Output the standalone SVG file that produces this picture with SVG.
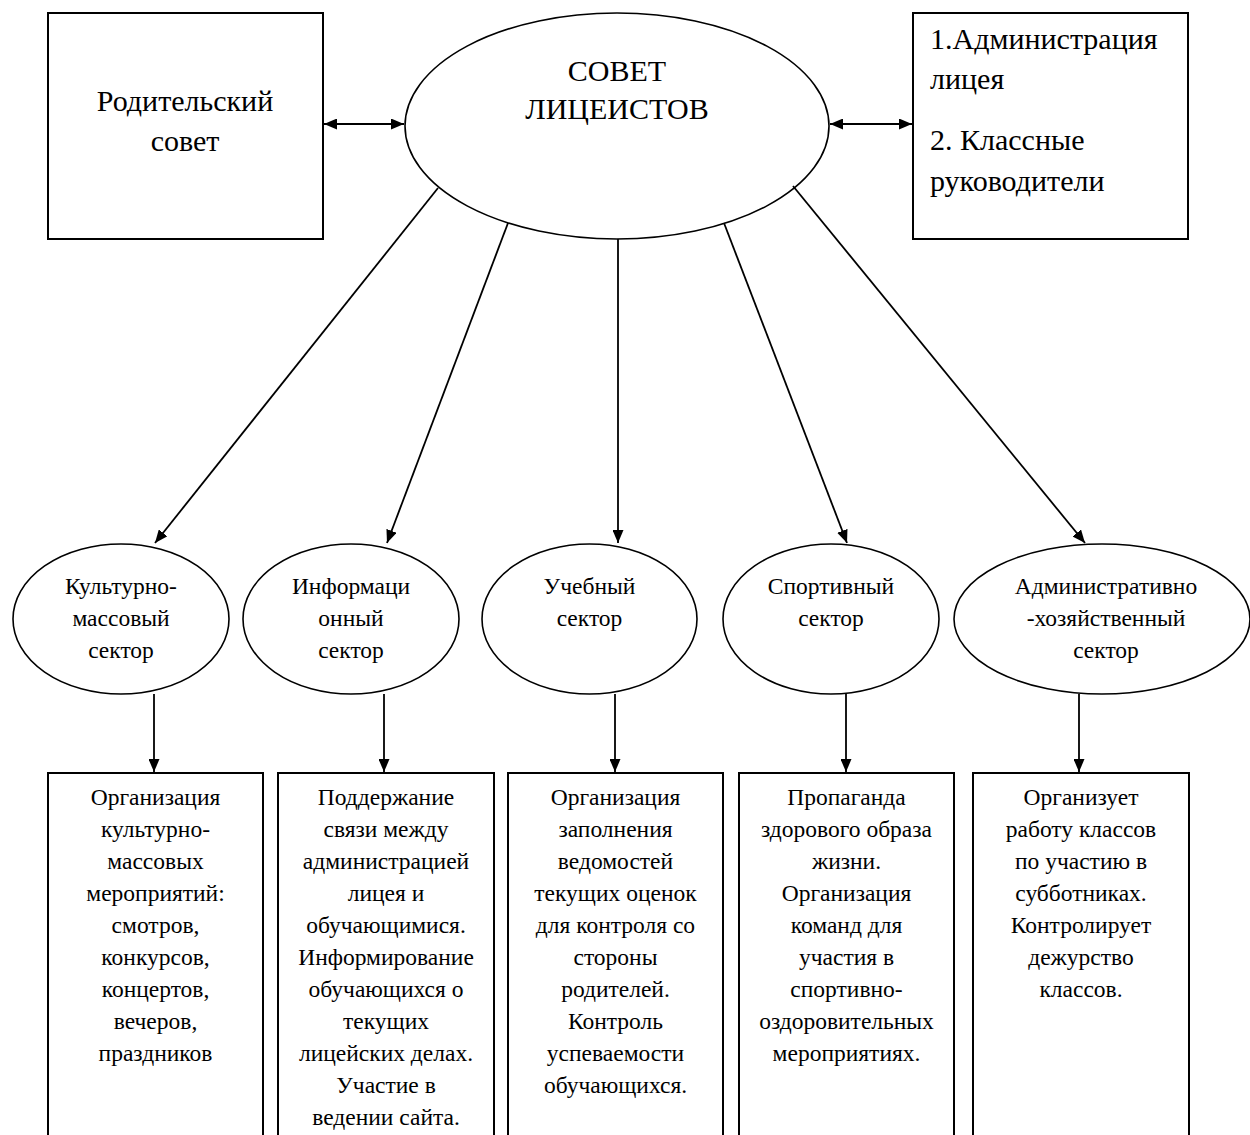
<svg xmlns="http://www.w3.org/2000/svg" width="1250" height="1135" viewBox="0 0 1250 1135">
<style>
.box{fill:#fff;stroke:#000;stroke-width:2}
.ell{fill:#fff;stroke:#000;stroke-width:1.6}
.big{font-family:"Liberation Serif","Times New Roman",serif;font-size:30px;fill:#000}
.sm{font-family:"Liberation Serif","Times New Roman",serif;font-size:23.5px;fill:#000;text-anchor:middle}
.c{text-anchor:middle}
.ln{stroke:#000;stroke-width:1.8;fill:none}
</style>
<defs>
<marker id="ah" viewBox="0 0 13 11" refX="13" refY="5.5" markerWidth="13" markerHeight="11" markerUnits="userSpaceOnUse" orient="auto-start-reverse">
<path d="M0,0 L13,5.5 L0,11 Z" fill="#000"/>
</marker>
</defs>
<rect width="1250" height="1135" fill="#fff"/>

<g id="parents">
<rect class="box" x="48" y="13" width="275" height="226"/>
<text class="big c" x="185" y="111">Родительский</text>
<text class="big c" x="185" y="151">совет</text>
</g>

<g id="council">
<ellipse class="ell" cx="617" cy="126" rx="212" ry="113"/>
<text class="big c" x="617" y="81">СОВЕТ</text>
<text class="big c" x="617" y="119">ЛИЦЕИСТОВ</text>
</g>

<g id="admin">
<rect class="box" x="913" y="13" width="275" height="226"/>
<text class="big" x="930" y="49">1.Администрация</text>
<text class="big" x="930" y="89">лицея</text>
<text class="big" x="930" y="150">2. Классные</text>
<text class="big" x="930" y="191">руководители</text>
</g>

<g id="sector1">
<ellipse class="ell" cx="121" cy="619" rx="108" ry="75"/>
<text class="sm" x="121" y="594">Культурно-</text>
<text class="sm" x="121" y="626">массовый</text>
<text class="sm" x="121" y="658">сектор</text>
</g>
<g id="sector2">
<ellipse class="ell" cx="351" cy="619" rx="108" ry="75"/>
<text class="sm" x="351" y="594">Информаци</text>
<text class="sm" x="351" y="626">онный</text>
<text class="sm" x="351" y="658">сектор</text>
</g>
<g id="sector3">
<ellipse class="ell" cx="589.5" cy="619" rx="107.5" ry="75"/>
<text class="sm" x="589.5" y="594">Учебный</text>
<text class="sm" x="589.5" y="626">сектор</text>
</g>
<g id="sector4">
<ellipse class="ell" cx="831" cy="619" rx="108" ry="75"/>
<text class="sm" x="831" y="594">Спортивный</text>
<text class="sm" x="831" y="626">сектор</text>
</g>
<g id="sector5">
<ellipse class="ell" cx="1102" cy="619" rx="148" ry="75"/>
<text class="sm" x="1106" y="594">Административно</text>
<text class="sm" x="1106" y="626">-хозяйственный</text>
<text class="sm" x="1106" y="658">сектор</text>
</g>

<g id="task1">
<rect class="box" x="48" y="773" width="215" height="380"/>
<text class="sm" x="155.5" y="805">Организация</text>
<text class="sm" x="155.5" y="837">культурно-</text>
<text class="sm" x="155.5" y="869">массовых</text>
<text class="sm" x="155.5" y="901">мероприятий:</text>
<text class="sm" x="155.5" y="933">смотров,</text>
<text class="sm" x="155.5" y="965">конкурсов,</text>
<text class="sm" x="155.5" y="997">концертов,</text>
<text class="sm" x="155.5" y="1029">вечеров,</text>
<text class="sm" x="155.5" y="1061">праздников</text>
</g>
<g id="task2">
<rect class="box" x="278" y="773" width="216" height="380"/>
<text class="sm" x="386" y="805">Поддержание</text>
<text class="sm" x="386" y="837">связи между</text>
<text class="sm" x="386" y="869">администрацией</text>
<text class="sm" x="386" y="901">лицея и</text>
<text class="sm" x="386" y="933">обучающимися.</text>
<text class="sm" x="386" y="965">Информирование</text>
<text class="sm" x="386" y="997">обучающихся о</text>
<text class="sm" x="386" y="1029">текущих</text>
<text class="sm" x="386" y="1061">лицейских делах.</text>
<text class="sm" x="386" y="1093">Участие в</text>
<text class="sm" x="386" y="1125">ведении сайта.</text>
</g>
<g id="task3">
<rect class="box" x="508" y="773" width="215" height="380"/>
<text class="sm" x="615.5" y="805">Организация</text>
<text class="sm" x="615.5" y="837">заполнения</text>
<text class="sm" x="615.5" y="869">ведомостей</text>
<text class="sm" x="615.5" y="901">текущих оценок</text>
<text class="sm" x="615.5" y="933">для контроля со</text>
<text class="sm" x="615.5" y="965">стороны</text>
<text class="sm" x="615.5" y="997">родителей.</text>
<text class="sm" x="615.5" y="1029">Контроль</text>
<text class="sm" x="615.5" y="1061">успеваемости</text>
<text class="sm" x="615.5" y="1093">обучающихся.</text>
</g>
<g id="task4">
<rect class="box" x="739" y="773" width="215" height="380"/>
<text class="sm" x="846.5" y="805">Пропаганда</text>
<text class="sm" x="846.5" y="837">здорового образа</text>
<text class="sm" x="846.5" y="869">жизни.</text>
<text class="sm" x="846.5" y="901">Организация</text>
<text class="sm" x="846.5" y="933">команд для</text>
<text class="sm" x="846.5" y="965">участия в</text>
<text class="sm" x="846.5" y="997">спортивно-</text>
<text class="sm" x="846.5" y="1029">оздоровительных</text>
<text class="sm" x="846.5" y="1061">мероприятиях.</text>
</g>
<g id="task5">
<rect class="box" x="973" y="773" width="216" height="380"/>
<text class="sm" x="1081" y="805">Организует</text>
<text class="sm" x="1081" y="837">работу классов</text>
<text class="sm" x="1081" y="869">по участию в</text>
<text class="sm" x="1081" y="901">субботниках.</text>
<text class="sm" x="1081" y="933">Контролирует</text>
<text class="sm" x="1081" y="965">дежурство</text>
<text class="sm" x="1081" y="997">классов.</text>
</g>

<g id="connectors">
<line class="ln" x1="324" y1="124" x2="404" y2="124" marker-start="url(#ah)" marker-end="url(#ah)"/>
<line class="ln" x1="830" y1="124" x2="912" y2="124" marker-start="url(#ah)" marker-end="url(#ah)"/>
<line class="ln" x1="438" y1="188" x2="155" y2="543" marker-end="url(#ah)"/>
<line class="ln" x1="508" y1="223" x2="387" y2="543" marker-end="url(#ah)"/>
<line class="ln" x1="618" y1="239" x2="618" y2="543" marker-end="url(#ah)"/>
<line class="ln" x1="724" y1="223" x2="847" y2="543" marker-end="url(#ah)"/>
<line class="ln" x1="793" y1="186" x2="1085" y2="543" marker-end="url(#ah)"/>
<line class="ln" x1="154" y1="694" x2="154" y2="772" marker-end="url(#ah)"/>
<line class="ln" x1="384" y1="694" x2="384" y2="772" marker-end="url(#ah)"/>
<line class="ln" x1="615" y1="694" x2="615" y2="772" marker-end="url(#ah)"/>
<line class="ln" x1="846" y1="694" x2="846" y2="772" marker-end="url(#ah)"/>
<line class="ln" x1="1079" y1="694" x2="1079" y2="772" marker-end="url(#ah)"/>
</g>
</svg>
